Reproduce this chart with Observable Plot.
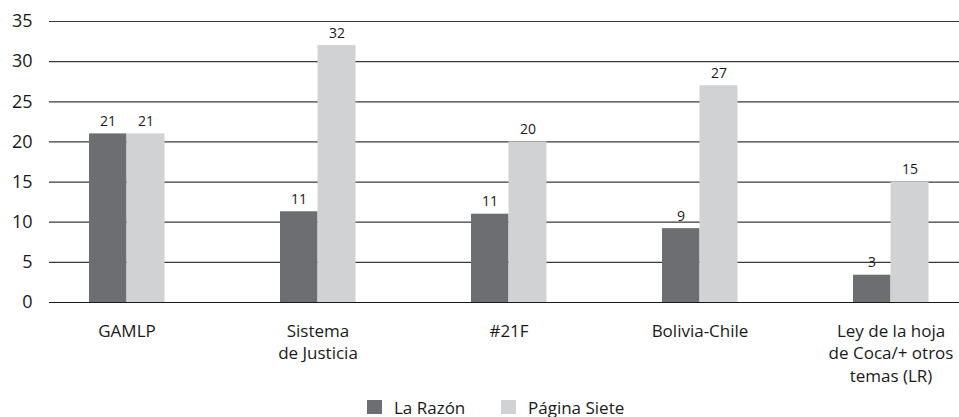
<!DOCTYPE html>
<html>
<head>
<meta charset="utf-8">
<script src="https://cdn.jsdelivr.net/npm/d3@7"></script>
<script src="https://cdn.jsdelivr.net/npm/@observablehq/plot@0.6"></script>
<style>
  html, body { margin: 0; padding: 0; background: #fff; }
  body { width: 959px; height: 417px; overflow: hidden; font-family: "Open Sans", sans-serif; color: #1a1a1a; }
  #legend { position: relative; height: 20px; font-size: 17px; }
  .item { position: absolute; top: 0; display: flex; align-items: center; height: 20px; }
  .sw { width: 15px; height: 14px; margin-right: 12px; }
</style>
</head>
<body>
<div id="chart"></div>
<div id="legend"></div>
<script>
const categories = ["GAMLP", "Sistema\nde Justicia", "#21F", "Bolivia-Chile", "Ley de la hoja\nde Coca/+ otros\ntemas (LR)"];
const seriesNames = ["La Razón", "Página Siete"];
const laRazon = [21, 11.3, 11, 9.2, 3.4];
const paginaSiete = [21, 32, 20, 27, 15];
const yTicks = [0, 5, 10, 15, 20, 25, 30, 35];
const colors = ["#6d6e71", "#d1d2d4"];

const razonRows = categories.map((c, i) => ({cat: c, series: seriesNames[0], value: laRazon[i]}));
const sieteRows = categories.map((c, i) => ({cat: c, series: seriesNames[1], value: paginaSiete[i]}));

const chart = Plot.plot({
  width: 959,
  height: 397,
  marginTop: 21,
  marginBottom: 95,
  marginLeft: 49,
  marginRight: 0,
  style: {fontFamily: "Open Sans, sans-serif", color: "#1a1a1a", background: "#fff"},
  x: {domain: categories, range: [31, 986.5], padding: 0, label: null},
  y: {domain: [0, 35], label: null},
  marks: [
    Plot.ruleY(yTicks, {stroke: "#3a3a3a", strokeWidth: 1.2}),
    Plot.barY(razonRows, {x: "cat", y: "value", fill: colors[0], insetLeft: 58, insetRight: 95.5}),
    Plot.barY(sieteRows, {x: "cat", y: "value", fill: colors[1], insetLeft: 95.5, insetRight: 57.5}),
    Plot.ruleY([0], {stroke: "#1a1a1a", strokeWidth: 1.2}),
    Plot.text(razonRows, {x: "cat", y: "value", text: d => Math.round(d.value), dx: -19, dy: -8, lineAnchor: "bottom", fontSize: 14, fill: "#1a1a1a"}),
    Plot.text(sieteRows, {x: "cat", y: "value", text: d => Math.round(d.value), dx: 19, dy: -8, lineAnchor: "bottom", fontSize: 14, fill: "#1a1a1a"}),
    Plot.axisY(yTicks, {tickSize: 0, tickPadding: 17, fontSize: 18, label: null}),
    Plot.axisX({tickSize: 0, tickPadding: 18, fontSize: 17, lineHeight: 1.33, label: null})
  ]
});
document.getElementById("chart").appendChild(chart);

const legend = document.getElementById("legend");
const lefts = [367, 501];
seriesNames.forEach((name, i) => {
  const item = document.createElement("div");
  item.className = "item";
  item.style.left = lefts[i] + "px";
  const sw = document.createElement("span");
  sw.className = "sw";
  sw.style.background = colors[i];
  const t = document.createElement("span");
  t.textContent = name;
  item.appendChild(sw);
  item.appendChild(t);
  legend.appendChild(item);
});
</script>
</body>
</html>
